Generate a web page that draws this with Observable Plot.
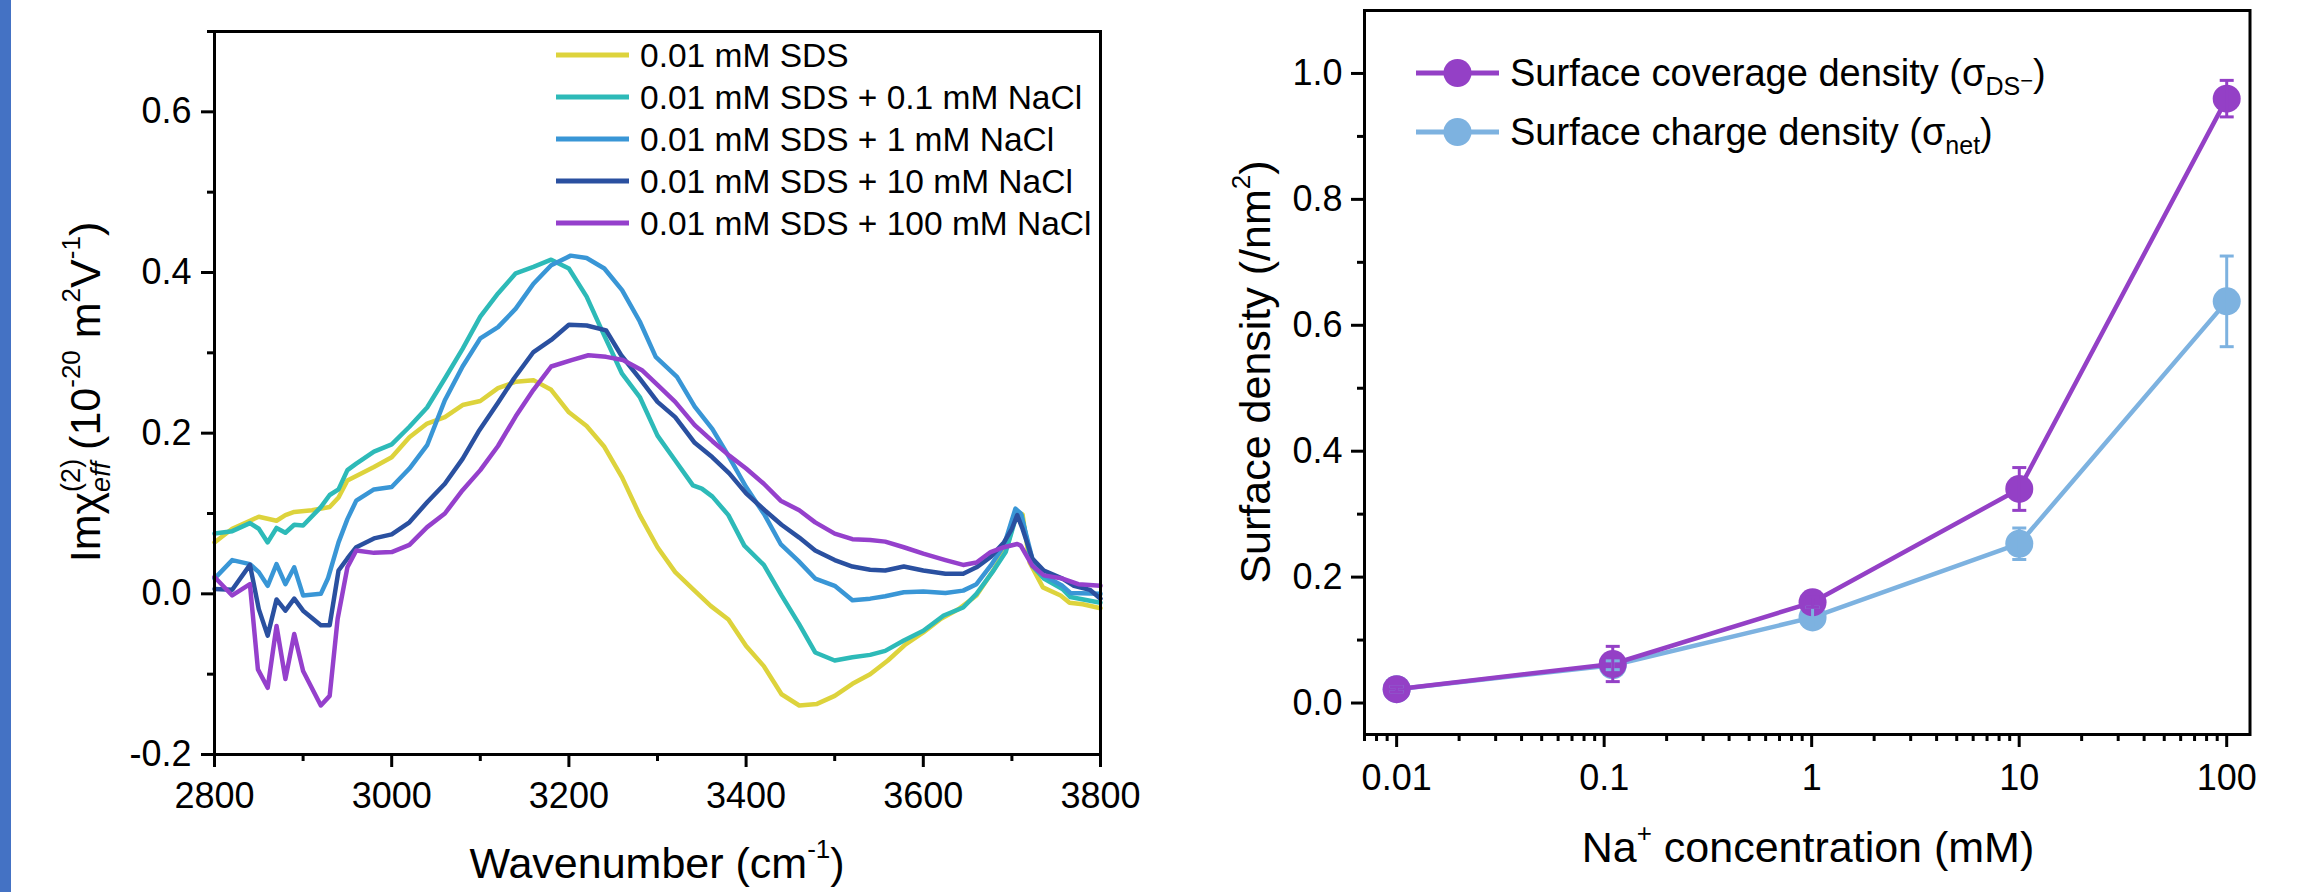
<!DOCTYPE html>
<html><head><meta charset="utf-8">
<script src="https://cdn.jsdelivr.net/npm/d3@7"></script>
<script src="https://cdn.jsdelivr.net/npm/@observablehq/plot@0.6"></script>
<style>
body{margin:0;background:#fff;}
#page{position:relative;width:2309px;height:892px;overflow:hidden;background:#fff;}
#bar{position:absolute;left:0;top:0;width:11px;height:892px;background:#4472c4;}
#left{position:absolute;left:0;top:0;width:1160px;height:892px;}
#right{position:absolute;left:1160px;top:0;width:1149px;height:892px;}
</style></head>
<body><div id="page"><div id="left"></div><div id="right"></div><div id="bar"></div></div>
<script>
// ---------- Left panel: Im chi(2) spectra ----------
const seriesNames = ["0.01 mM SDS", "0.01 mM SDS + 0.1 mM NaCl", "0.01 mM SDS + 1 mM NaCl", "0.01 mM SDS + 10 mM NaCl", "0.01 mM SDS + 100 mM NaCl"];
const seriesColors = ["#ddd33c", "#2dbab8", "#3996d6", "#2a50a0", "#9540cc"];

const wnSDS = [2800,2820,2840,2850,2870,2880,2890,2910,2930,2940,2950,2980,3000,3020,3040,3060,3080,3100,3120,3140,3160,3180,3200,3220,3240,3260,3280,3300,3320,3340,3360,3380,3400,3420,3440,3460,3480,3500,3520,3540,3560,3580,3600,3620,3640,3660,3680,3695,3705,3712,3720,3735,3755,3765,3780,3800];
const imSDS = [0.064,0.081,0.091,0.096,0.091,0.098,0.102,0.104,0.108,0.120,0.141,0.158,0.170,0.195,0.212,0.220,0.235,0.240,0.256,0.264,0.266,0.254,0.226,0.209,0.183,0.145,0.098,0.058,0.027,0.006,-0.015,-0.032,-0.065,-0.090,-0.125,-0.139,-0.137,-0.127,-0.112,-0.100,-0.083,-0.063,-0.048,-0.031,-0.019,-0.002,0.031,0.060,0.102,0.099,0.039,0.008,-0.002,-0.011,-0.013,-0.018];

const wnNa01 = [2800,2820,2840,2850,2860,2870,2880,2890,2900,2920,2930,2940,2950,2960,2980,3000,3020,3040,3060,3080,3100,3120,3140,3160,3180,3200,3220,3238,3260,3280,3300,3320,3340,3350,3362,3380,3398,3420,3440,3460,3478,3500,3520,3540,3557,3578,3600,3623,3645,3660,3678,3693,3704,3711,3723,3736,3757,3766,3800];
const imNa01 = [0.075,0.078,0.088,0.081,0.064,0.082,0.076,0.086,0.085,0.108,0.123,0.130,0.154,0.162,0.177,0.186,0.208,0.232,0.268,0.305,0.345,0.374,0.399,0.407,0.416,0.405,0.370,0.326,0.274,0.245,0.197,0.166,0.135,0.131,0.121,0.098,0.060,0.036,-0.002,-0.038,-0.073,-0.083,-0.079,-0.076,-0.071,-0.058,-0.046,-0.027,-0.017,0.000,0.027,0.052,0.093,0.098,0.035,0.019,0.006,-0.004,-0.011];

const wnNa1 = [2800,2820,2840,2850,2860,2870,2880,2890,2900,2920,2928,2940,2950,2960,2980,3000,3020,3040,3060,3080,3100,3120,3140,3160,3180,3202,3220,3240,3260,3280,3298,3322,3342,3362,3381,3400,3421,3439,3459,3478,3500,3520,3540,3557,3578,3600,3625,3645,3660,3676,3691,3704,3710,3723,3736,3757,3766,3800];
const imNa1 = [0.019,0.042,0.037,0.027,0.010,0.037,0.012,0.033,-0.002,0.000,0.019,0.064,0.093,0.116,0.130,0.133,0.156,0.185,0.241,0.283,0.318,0.332,0.355,0.386,0.409,0.421,0.418,0.405,0.378,0.339,0.295,0.270,0.233,0.205,0.170,0.133,0.098,0.062,0.041,0.019,0.010,-0.008,-0.006,-0.003,0.002,0.003,0.001,0.004,0.012,0.035,0.060,0.106,0.100,0.044,0.023,0.010,0.001,0.000];

const wnNa10 = [2800,2820,2840,2850,2860,2870,2880,2890,2900,2920,2930,2940,2950,2960,2980,3000,3020,3040,3060,3080,3098,3120,3138,3160,3180,3200,3220,3242,3259,3280,3300,3320,3342,3362,3381,3400,3421,3440,3460,3478,3500,3520,3540,3557,3578,3600,3625,3645,3660,3676,3691,3700,3706,3712,3723,3736,3757,3770,3788,3800];
const imNa10 = [0.006,0.005,0.036,-0.019,-0.052,-0.007,-0.021,-0.006,-0.021,-0.039,-0.039,0.029,0.044,0.058,0.069,0.074,0.089,0.114,0.137,0.168,0.202,0.238,0.268,0.301,0.316,0.335,0.334,0.328,0.297,0.268,0.239,0.220,0.188,0.170,0.150,0.125,0.104,0.086,0.070,0.054,0.042,0.034,0.030,0.029,0.034,0.029,0.025,0.025,0.033,0.046,0.064,0.081,0.098,0.081,0.044,0.029,0.019,0.010,0.005,-0.006];

const wnNa100 = [2800,2820,2840,2849,2860,2870,2880,2890,2900,2920,2930,2939,2950,2960,2980,3000,3020,3040,3060,3080,3100,3120,3140,3160,3180,3203,3222,3242,3261,3283,3300,3320,3342,3362,3381,3400,3420,3439,3460,3478,3500,3520,3540,3557,3578,3600,3625,3645,3660,3676,3691,3706,3710,3723,3736,3757,3775,3800];
const imNa100 = [0.021,-0.002,0.012,-0.094,-0.117,-0.040,-0.106,-0.050,-0.096,-0.139,-0.127,-0.031,0.033,0.054,0.051,0.052,0.061,0.083,0.100,0.129,0.154,0.184,0.221,0.254,0.283,0.291,0.297,0.295,0.291,0.278,0.260,0.239,0.210,0.190,0.172,0.156,0.137,0.116,0.104,0.089,0.075,0.068,0.067,0.065,0.058,0.050,0.042,0.036,0.039,0.052,0.058,0.062,0.060,0.035,0.023,0.019,0.012,0.010];

const leftXTicks = [2800, 3000, 3200, 3400, 3600, 3800];
const leftXMinor = [2900, 3100, 3300, 3500, 3700];
const leftYTicks = [-0.2, 0.0, 0.2, 0.4, 0.6];
const leftYMinor = [-0.1, 0.1, 0.3, 0.5, 0.7];

// ---------- Right panel: surface densities ----------
const naConc = [0.01, 0.11, 1.01, 10.01, 100.01];
const coverage = [0.022, 0.062, 0.160, 0.340, 0.960];
const coverageErr = [0.004, 0.028, 0.008, 0.034, 0.029];
const charge = [0.022, 0.060, 0.136, 0.253, 0.638];
const chargeErr = [0.004, 0.007, 0.016, 0.025, 0.072];
const rightLabels = ["Surface coverage density", "Surface charge density"];
const rightColors = ["#9440c6", "#7db2e0"];
const rightXTicks = [0.01, 0.1, 1, 10, 100];
const rightXTickLabels = ["0.01", "0.1", "1", "10", "100"];
const rightXMinor = [0.007,0.008,0.009, 0.02,0.03,0.04,0.05,0.06,0.07,0.08,0.09, 0.2,0.3,0.4,0.5,0.6,0.7,0.8,0.9, 2,3,4,5,6,7,8,9, 20,30,40,50,60,70,80,90];
const rightYTicks = [0.0, 0.2, 0.4, 0.6, 0.8, 1.0];
const rightYMinor = [0.1, 0.3, 0.5, 0.7, 0.9];

const FONT = '"Liberation Sans", Arial, Helvetica, sans-serif';
const wnAll = [wnSDS, wnNa01, wnNa1, wnNa10, wnNa100];
const imAll = [imSDS, imNa01, imNa1, imNa10, imNa100];
const spectra = [];
seriesNames.forEach((name, i) => wnAll[i].forEach((w, j) => spectra.push({series: name, wn: w, im: imAll[i][j]})));

const fmt1 = d => d.toFixed(1);
const left = Plot.plot({
  width: 1160, height: 892,
  marginLeft: 214, marginRight: 60, marginTop: 31, marginBottom: 138,
  style: {fontFamily: FONT, fontSize: "36px", color: "#000", background: "transparent"},
  x: {domain: [2800, 3800]},
  y: {domain: [-0.2, 0.7]},
  color: {domain: seriesNames, range: seriesColors},
  marks: [
    Plot.axisX(leftXTicks, {tickSize: 13, tickPadding: 15, strokeWidth: 3, fontSize: 36, label: null, tickFormat: d => String(d)}),
    Plot.axisX(leftXMinor, {tickSize: 7, strokeWidth: 3, label: null, tickFormat: () => ""}),
    Plot.axisY(leftYTicks, {tickSize: 13, tickPadding: 10, strokeWidth: 3, fontSize: 36, label: null, tickFormat: fmt1}),
    Plot.axisY(leftYMinor, {tickSize: 7, strokeWidth: 3, label: null, tickFormat: () => ""}),
    Plot.line(spectra, {x: "wn", y: "im", z: "series", stroke: "series", strokeWidth: 4.5, strokeLinejoin: "round"}),
    Plot.frame({stroke: "#000", strokeWidth: 3})
  ]
});
document.getElementById("left").appendChild(left);

const covRows = naConc.map((c, i) => ({c, v: coverage[i], e: coverageErr[i]}));
const chgRows = naConc.map((c, i) => ({c, v: charge[i], e: chargeErr[i]}));
const capSymbol = {draw(ctx, size) { const w = Math.sqrt(size / Math.PI); ctx.moveTo(-w, 0); ctx.lineTo(w, 0); }};

function errMarks(rows, color) {
  return [
    Plot.ruleX(rows, {x: "c", y1: d => d.v - d.e, y2: d => d.v + d.e, stroke: color, strokeWidth: 3}),
    Plot.dot(rows, {x: "c", y: d => d.v + d.e, symbol: capSymbol, r: 7, fill: "none", stroke: color, strokeWidth: 3}),
    Plot.dot(rows, {x: "c", y: d => d.v - d.e, symbol: capSymbol, r: 7, fill: "none", stroke: color, strokeWidth: 3})
  ];
}

const right = Plot.plot({
  width: 1149, height: 892,
  marginLeft: 204, marginRight: 59.5, marginTop: 10, marginBottom: 158,
  style: {fontFamily: FONT, fontSize: "36px", color: "#000", background: "transparent"},
  x: {type: "log", domain: [0.007, 129.5]},
  y: {domain: [-0.05, 1.1]},
  marks: [
    Plot.axisX(rightXTicks, {tickSize: 13, tickPadding: 17, strokeWidth: 3, fontSize: 36, label: null, tickFormat: d => rightXTickLabels[rightXTicks.indexOf(d)]}),
    Plot.axisX(rightXMinor, {tickSize: 7, strokeWidth: 3, label: null, tickFormat: () => ""}),
    Plot.axisY(rightYTicks, {tickSize: 13, tickPadding: 9, strokeWidth: 3, fontSize: 36, label: null, tickFormat: fmt1}),
    Plot.axisY(rightYMinor, {tickSize: 7, strokeWidth: 3, label: null, tickFormat: () => ""}),
    Plot.line(chgRows, {x: "c", y: "v", stroke: rightColors[1], strokeWidth: 4.5}),
    Plot.dot(chgRows, {x: "c", y: "v", r: 14, fill: rightColors[1]}),
    Plot.line(covRows, {x: "c", y: "v", stroke: rightColors[0], strokeWidth: 4.5}),
    Plot.dot(covRows, {x: "c", y: "v", r: 14, fill: rightColors[0]}),
    ...errMarks(chgRows, rightColors[1]),
    ...errMarks(covRows, rightColors[0]),
    Plot.frame({stroke: "#000", strokeWidth: 3})
  ]
});
document.getElementById("right").appendChild(right);

// ---------- Text overlays (titles, legends) ----------
function addText(svg, {x, y, rotate = 0, anchor = "middle", size, parts}) {
  const t = d3.select(svg).append("text")
    .attr("transform", `translate(${x},${y})` + (rotate ? ` rotate(${rotate})` : ""))
    .attr("text-anchor", anchor)
    .attr("font-family", FONT).attr("font-size", size).attr("fill", "#000")
    .style("white-space", "pre");
  for (const p of parts) {
    const s = t.append("tspan").text(p.t);
    if (p.size) s.attr("font-size", p.size);
    if (p.dy) s.attr("dy", p.dy);
    if (p.dx) s.attr("dx", p.dx);
    if (p.italic) s.attr("font-style", "italic");
  }
  return t;
}

// Left axis titles
addText(left, {x: 657, y: 878, size: 43, parts: [{t: "Wavenumber (cm"}, {t: "-1", size: 26, dy: -20}, {t: ")", dy: 20}]});
addText(left, {x: 100, y: 392, rotate: -90, size: 43, parts: [
  {t: "Imχ"}, {t: "(2)", size: 27, dy: -20}, {t: "eff", size: 27, italic: true, dx: -33, dy: 30},
  {t: " (10", dy: -10}, {t: "-20", size: 26, dy: -20}, {t: " m", dy: 20}, {t: "2", size: 26, dy: -20},
  {t: "V", dy: 20}, {t: "-1", size: 26, dy: -20}, {t: ")", dy: 20}
]});

// Left legend
const gl = d3.select(left).append("g");
seriesNames.forEach((name, i) => {
  const y = 55 + i * 42;
  gl.append("line").attr("x1", 556).attr("x2", 629).attr("y1", y).attr("y2", y)
    .attr("stroke", seriesColors[i]).attr("stroke-width", 5);
  gl.append("text").attr("x", 640).attr("y", y).attr("dy", "0.35em").attr("text-anchor", "start")
    .attr("font-family", FONT).attr("font-size", 33.5).attr("fill", "#000").text(name);
});

// Right axis titles
addText(right, {x: 648, y: 862, size: 43, parts: [{t: "Na"}, {t: "+", size: 26, dy: -20}, {t: " concentration (mM)", dy: 20}]});
addText(right, {x: 110, y: 372, rotate: -90, size: 43, parts: [{t: "Surface density (/nm"}, {t: "2", size: 26, dy: -20}, {t: ")", dy: 20}]});

// Right legend
const gr = d3.select(right).append("g");
const legendRows = [
  {y: 73, parts: [{t: rightLabels[0] + " (σ"}, {t: "DS", size: 25, dy: 9}, {t: "−", size: 22, dy: -7}, {t: ")", dy: -2}]},
  {y: 132, parts: [{t: rightLabels[1] + " (σ"}, {t: "net", size: 25, dy: 9}, {t: ")", dy: -9}]}
];
legendRows.forEach((row, i) => {
  gr.append("line").attr("x1", 256).attr("x2", 339).attr("y1", row.y).attr("y2", row.y)
    .attr("stroke", rightColors[i]).attr("stroke-width", 5);
  gr.append("circle").attr("cx", 297.5).attr("cy", row.y).attr("r", 14).attr("fill", rightColors[i]);
  addText(right, {x: 350, y: row.y + 13, anchor: "start", size: 38, parts: row.parts});
});
</script>
</body></html>
